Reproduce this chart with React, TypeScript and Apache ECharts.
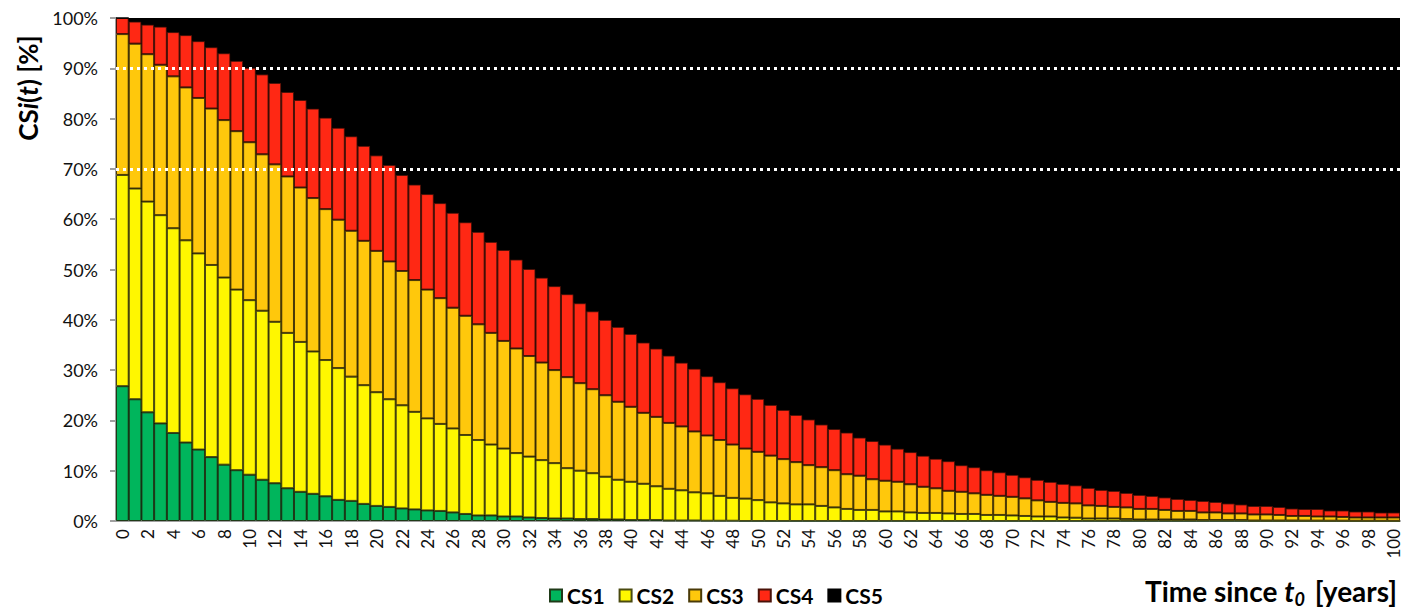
import React, { useEffect, useRef } from "react";
import * as echarts from "echarts";

// Years 0..100
const years: string[] = [
  "0","1","2","3","4","5","6","7","8","9","10","11","12","13","14","15","16","17","18","19",
  "20","21","22","23","24","25","26","27","28","29","30","31","32","33","34","35","36","37","38","39",
  "40","41","42","43","44","45","46","47","48","49","50","51","52","53","54","55","56","57","58","59",
  "60","61","62","63","64","65","66","67","68","69","70","71","72","73","74","75","76","77","78","79",
  "80","81","82","83","84","85","86","87","88","89","90","91","92","93","94","95","96","97","98","99","100",
];

// Cumulative upper edges (%)
const cs1Top = [
  26.8,24.2,21.6,19.4,17.5,15.6,14.2,12.7,11.2,10.1,9.2,8.2,7.5,6.5,5.8,5.4,4.9,4.2,4.0,3.4,
  3.0,2.8,2.5,2.3,2.1,2.0,1.7,1.4,1.1,1.1,0.9,0.9,0.7,0.6,0.5,0.5,0.4,0.4,0.3,0.3,
  0.2,0.2,0.2,0.1,0.1,0.1,0.05,0.05,0.05,0,0,0,0,0,0,0,0,0,0,0,
  0,0,0,0,0,0,0,0,0,0,0,0,0,0,0,0,0,0,0,0,
  0,0,0,0,0,0,0,0,0,0,0,0,0,0,0,0,0,0,0,0,0,
];
const cs2Top = [
  68.8,66.1,63.5,60.8,58.2,55.8,53.2,50.9,48.4,46.0,43.9,41.8,39.6,37.4,35.6,33.7,32.0,30.4,28.7,27.0,
  25.6,24.2,23.0,21.7,20.4,19.3,18.4,17.1,16.1,15.2,14.4,13.5,12.8,12.1,11.5,10.5,10.0,9.5,8.8,8.2,
  7.8,7.4,6.9,6.4,6.1,5.7,5.5,5.0,4.6,4.45,4.15,3.7,3.5,3.3,3.3,3.0,2.7,2.4,2.2,2.2,
  1.9,1.9,1.7,1.6,1.6,1.5,1.4,1.4,1.2,1.2,1.1,1.0,0.9,0.9,0.7,0.65,0.5,0.5,0.5,0.4,
  0.3,0.3,0.3,0.3,0.3,0.2,0.2,0.2,0.2,0.1,0.1,0.1,0.1,0.08,0.08,0.06,0.06,0.05,0.05,0.04,0.04,
];
const cs3Top = [
  96.8,94.9,92.8,90.7,88.4,86.2,84.1,82.0,79.7,77.5,75.3,72.9,70.9,68.5,66.3,64.2,62.0,59.9,57.7,55.7,
  53.7,51.6,49.7,47.9,46.0,44.3,42.4,40.8,39.1,37.4,35.8,34.3,32.8,31.5,30.0,28.6,27.4,26.2,25.0,23.7,
  22.7,21.5,20.7,19.5,18.8,17.8,17.0,16.1,15.2,14.4,13.75,13.0,12.3,11.7,11.1,10.7,10.1,9.3,9.0,8.3,
  8.0,7.8,7.3,6.8,6.5,6.0,5.8,5.5,5.2,5.0,4.8,4.5,4.1,3.8,3.6,3.5,3.1,3.0,2.8,2.7,
  2.4,2.4,2.2,2.0,2.0,1.7,1.7,1.5,1.5,1.3,1.3,1.2,1.0,1.0,0.9,0.9,0.8,0.7,0.7,0.7,0.7,
];
const cs4Top = [
  100,99.3,98.7,98.3,97.2,96.6,95.4,94.2,93.0,91.5,90.1,88.8,87.1,85.3,83.7,82.0,80.2,78.2,76.5,74.6,
  72.7,70.8,68.8,66.9,65.0,63.2,61.3,59.4,57.5,55.5,53.9,52.0,50.1,48.4,46.7,45.1,43.3,41.7,40.0,38.6,
  37.2,35.5,34.3,32.9,31.5,30.3,28.8,27.6,26.4,25.2,24.3,23.1,22.1,21.1,20.2,19.2,18.3,17.6,16.6,15.9,
  15.2,14.4,13.7,13.0,12.4,11.9,11.1,10.7,10.1,9.7,9.2,8.7,8.2,7.8,7.4,7.1,6.6,6.2,6.0,5.6,
  5.2,5.0,4.7,4.4,4.2,4.0,3.8,3.5,3.3,3.0,3.0,2.8,2.5,2.4,2.4,2.1,2.1,1.9,1.9,1.7,1.7,
];

const seriesNames = ["CS1", "CS2", "CS3", "CS4", "CS5"];
const seriesColors = ["#00b55c", "#fff700", "#ffc80c", "#ff2814", "#000000"];
const seriesBorders = ["#1f3a18", "#4a4a10", "#4a3a08", "#4a1208", "#000000"];
const thresholds = [90, 70];
const yTicks = [0, 100, 10];

const r2 = (v: number) => Math.round(v * 100) / 100;

export default function App() {
  const ref = useRef<HTMLDivElement>(null);

  useEffect(() => {
    if (!ref.current) return;
    const chart = echarts.init(ref.current, undefined, { renderer: "svg" });

    const layers = [
      cs1Top.map((v) => r2(v)),
      cs2Top.map((v, i) => r2(v - cs1Top[i])),
      cs3Top.map((v, i) => r2(v - cs2Top[i])),
      cs4Top.map((v, i) => r2(v - cs3Top[i])),
      cs4Top.map((v) => r2(100 - v)),
    ];

    const series: any[] = layers.map((data, k) => ({
      name: seriesNames[k],
      type: "bar",
      stack: "cs",
      data,
      barCategoryGap: "0%",
      itemStyle: {
        color: seriesColors[k],
        borderColor: seriesBorders[k],
        borderWidth: 1,
      },
      emphasis: { disabled: true },
    }));

    series[4].markLine = {
      silent: true,
      symbol: "none",
      label: { show: false },
      lineStyle: { color: "#ffffff", width: 3, type: [3, 4] },
      data: thresholds.map((t) => ({ yAxis: t })),
    };

    chart.setOption({
      animation: false,
      legend: {
        left: 544,
        top: 580,
        itemWidth: 12,
        itemHeight: 12,
        itemGap: 14,
        icon: "rect",
        data: seriesNames,
        textStyle: {
          fontFamily: "Lato",
          fontWeight: "bold",
          fontSize: 21,
          color: "#000",
        },
      },
      grid: { left: 116, right: 3, top: 18, bottom: 93, show: true, backgroundColor: "#000", borderWidth: 0 },
      xAxis: {
        type: "category",
        data: years,
        axisLine: { lineStyle: { color: "#a0a0a0", width: 2 } },
        axisTick: { interval: 0, length: 6, lineStyle: { color: "#a0a0a0", width: 2 } },
        axisLabel: {
          interval: 1,
          rotate: 90,
          margin: 8,
          fontFamily: "Lato",
          fontSize: 17,
          color: "#111",
        },
      },
      yAxis: {
        type: "value",
        min: yTicks[0],
        max: yTicks[1],
        interval: yTicks[2],
        splitLine: { show: false },
        axisLine: { show: true, lineStyle: { color: "#a0a0a0", width: 2 } },
        axisTick: { show: true, inside: false, length: 6, lineStyle: { color: "#a0a0a0", width: 2 } },
        axisLabel: {
          formatter: "{value}%",
          margin: 18,
          fontFamily: "Lato",
          fontSize: 18,
          color: "#111",
        },
      },
      graphic: [
        {
          type: "text",
          x: 28,
          y: 88,
          rotation: Math.PI / 2,
          style: {
            text: "{b|CS}{bi|i}{b|(}{bi|t}{b|) [%]}",
            align: "center",
            verticalAlign: "middle",
            rich: {
              b: { fontFamily: "Lato", fontWeight: "bold", fontSize: 26, fill: "#000" },
              bi: { fontFamily: "Lato", fontWeight: "bold", fontStyle: "italic", fontSize: 26, fill: "#000" },
            },
          },
        },
        {
          type: "text",
          right: 6,
          top: 577,
          style: {
            text: "{b|Time since }{bi|t}{sub|0}{b| [years]}",
            rich: {
              b: { fontFamily: "Lato", fontWeight: "bold", fontSize: 28, fill: "#000", verticalAlign: "bottom" },
              bi: { fontFamily: "Lato", fontWeight: "bold", fontStyle: "italic", fontSize: 28, fill: "#000", verticalAlign: "bottom" },
              sub: { fontFamily: "Lato", fontWeight: "bold", fontStyle: "italic", fontSize: 18, fill: "#000", verticalAlign: "bottom", padding: [0, 3, -3, 0] },
            },
          },
        },
      ],
      series,
    });

    return () => chart.dispose();
  }, []);

  return (
    <div
      ref={ref}
      style={{ position: "fixed", left: 0, top: 0, width: 1403, height: 614, background: "#fff" }}
    />
  );
}
